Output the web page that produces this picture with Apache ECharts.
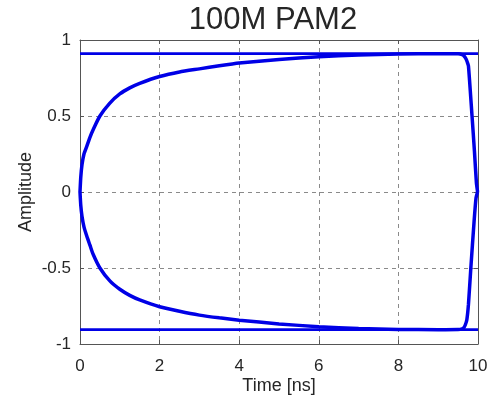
<!DOCTYPE html>
<html>
<head>
<meta charset="utf-8">
<script src="https://cdn.jsdelivr.net/npm/echarts@6/dist/echarts.min.js"></script>
<style>html,body{margin:0;padding:0;background:#fff}#c{width:496px;height:400px}</style>
</head>
<body>
<div id="c"></div>
<script>
var titleText = '100M PAM2';
var xName = 'Time [ns]';
var yName = 'Amplitude';
var xTicks = [0, 2, 4, 6, 8, 10];
var yTicks = [-1, -0.5, 0, 0.5, 1];

var highT = [0, 10];
var highV = [0.91, 0.91];
var lowT = [0, 10];
var lowV = [-0.906, -0.906];

var riseT = [0, 0.02, 0.05, 0.1, 0.17, 0.25, 0.33, 0.5, 0.75, 1.0, 1.25, 1.5, 2.0, 2.5, 3.0, 3.5, 4.0, 5.0, 6.0, 7.0, 8.0, 9.0, 9.5, 9.6, 9.65, 9.7, 9.73, 9.76, 9.85, 9.91, 9.96, 9.99];
var riseV = [0, 0.10, 0.18, 0.25, 0.30, 0.36, 0.41, 0.50, 0.585, 0.645, 0.685, 0.715, 0.76, 0.79, 0.81, 0.83, 0.848, 0.872, 0.89, 0.902, 0.908, 0.91, 0.909, 0.904, 0.895, 0.875, 0.855, 0.83, 0.50, 0.27, 0.06, 0];

var fallT = [0, 0.02, 0.05, 0.1, 0.17, 0.25, 0.33, 0.5, 0.75, 1.0, 1.25, 1.5, 2.0, 2.5, 3.0, 3.5, 4.0, 5.0, 6.0, 7.0, 8.0, 9.0, 9.5, 9.6, 9.65, 9.68, 9.72, 9.76, 9.82, 9.9, 9.95, 9.99];
var fallV = [0, -0.09, -0.16, -0.23, -0.29, -0.35, -0.41, -0.50, -0.585, -0.64, -0.68, -0.71, -0.755, -0.785, -0.81, -0.828, -0.843, -0.868, -0.886, -0.898, -0.904, -0.906, -0.905, -0.9, -0.89, -0.875, -0.84, -0.74, -0.5, -0.2, -0.04, 0];

function pairs(t, v) { return t.map(function (x, i) { return [x, v[i]]; }); }

var txt = '#262626';
var font = 'Liberation Sans, Arial, sans-serif';
var blue = '#0000e6';

var chart = echarts.init(document.getElementById('c'), null, {renderer: 'canvas'});
var baseX = {
  type: 'value', min: 0, max: 10, interval: 2,
  axisLine: {show: true, onZero: false, lineStyle: {color: '#555', width: 1}},
  axisTick: {show: true, inside: true, length: 4, lineStyle: {color: '#555'}},
  splitLine: {show: false}
};
var baseY = {
  type: 'value', min: -1, max: 1, interval: 0.5,
  axisLine: {show: true, onZero: false, lineStyle: {color: '#555', width: 1}},
  axisTick: {show: true, inside: true, length: 4, lineStyle: {color: '#555'}},
  splitLine: {show: false}
};
chart.setOption({
  animation: false,
  backgroundColor: '#fff',
  title: {
    text: titleText, left: 268, top: 0, textAlign: 'center',
    textStyle: {fontFamily: font, fontSize: 31, fontWeight: 'normal', color: txt}
  },
  grid: {left: 80, right: 18, top: 40, bottom: 54, containLabel: false},
  xAxis: [
    Object.assign({}, baseX, {
      position: 'bottom',
      name: xName, nameLocation: 'middle', nameGap: 33, nameMoveOverlap: false,
      nameTextStyle: {fontFamily: font, fontSize: 18, color: txt},
      axisLabel: {fontFamily: font, fontSize: 17, color: txt, margin: 14},
      splitLine: {show: true, showMinLine: false, showMaxLine: false, lineStyle: {color: '#8a8a8a', type: [4, 4], width: 1}}
    }),
    Object.assign({}, baseX, {position: 'top', axisLabel: {show: false}})
  ],
  yAxis: [
    Object.assign({}, baseY, {
      position: 'left',
      name: yName, nameLocation: 'middle', nameGap: 45, nameMoveOverlap: false,
      nameTextStyle: {fontFamily: font, fontSize: 18, color: txt},
      axisLabel: {fontFamily: font, fontSize: 17, color: txt, margin: 9},
      splitLine: {show: true, showMinLine: false, showMaxLine: false, lineStyle: {color: '#8a8a8a', type: [4, 4], width: 1}}
    }),
    Object.assign({}, baseY, {position: 'right', axisLabel: {show: false}})
  ],
  series: [
    {type: 'line', data: pairs(highT, highV), showSymbol: false, lineStyle: {color: blue, width: 2.8}},
    {type: 'line', data: pairs(lowT, lowV), showSymbol: false, lineStyle: {color: blue, width: 2.8}},
    {type: 'line', data: pairs(riseT, riseV), showSymbol: false, smooth: 0.2, lineStyle: {color: blue, width: 3.5}},
    {type: 'line', data: pairs(fallT, fallV), showSymbol: false, smooth: 0.2, lineStyle: {color: blue, width: 3.5}}
  ]
});
</script>
</body>
</html>
